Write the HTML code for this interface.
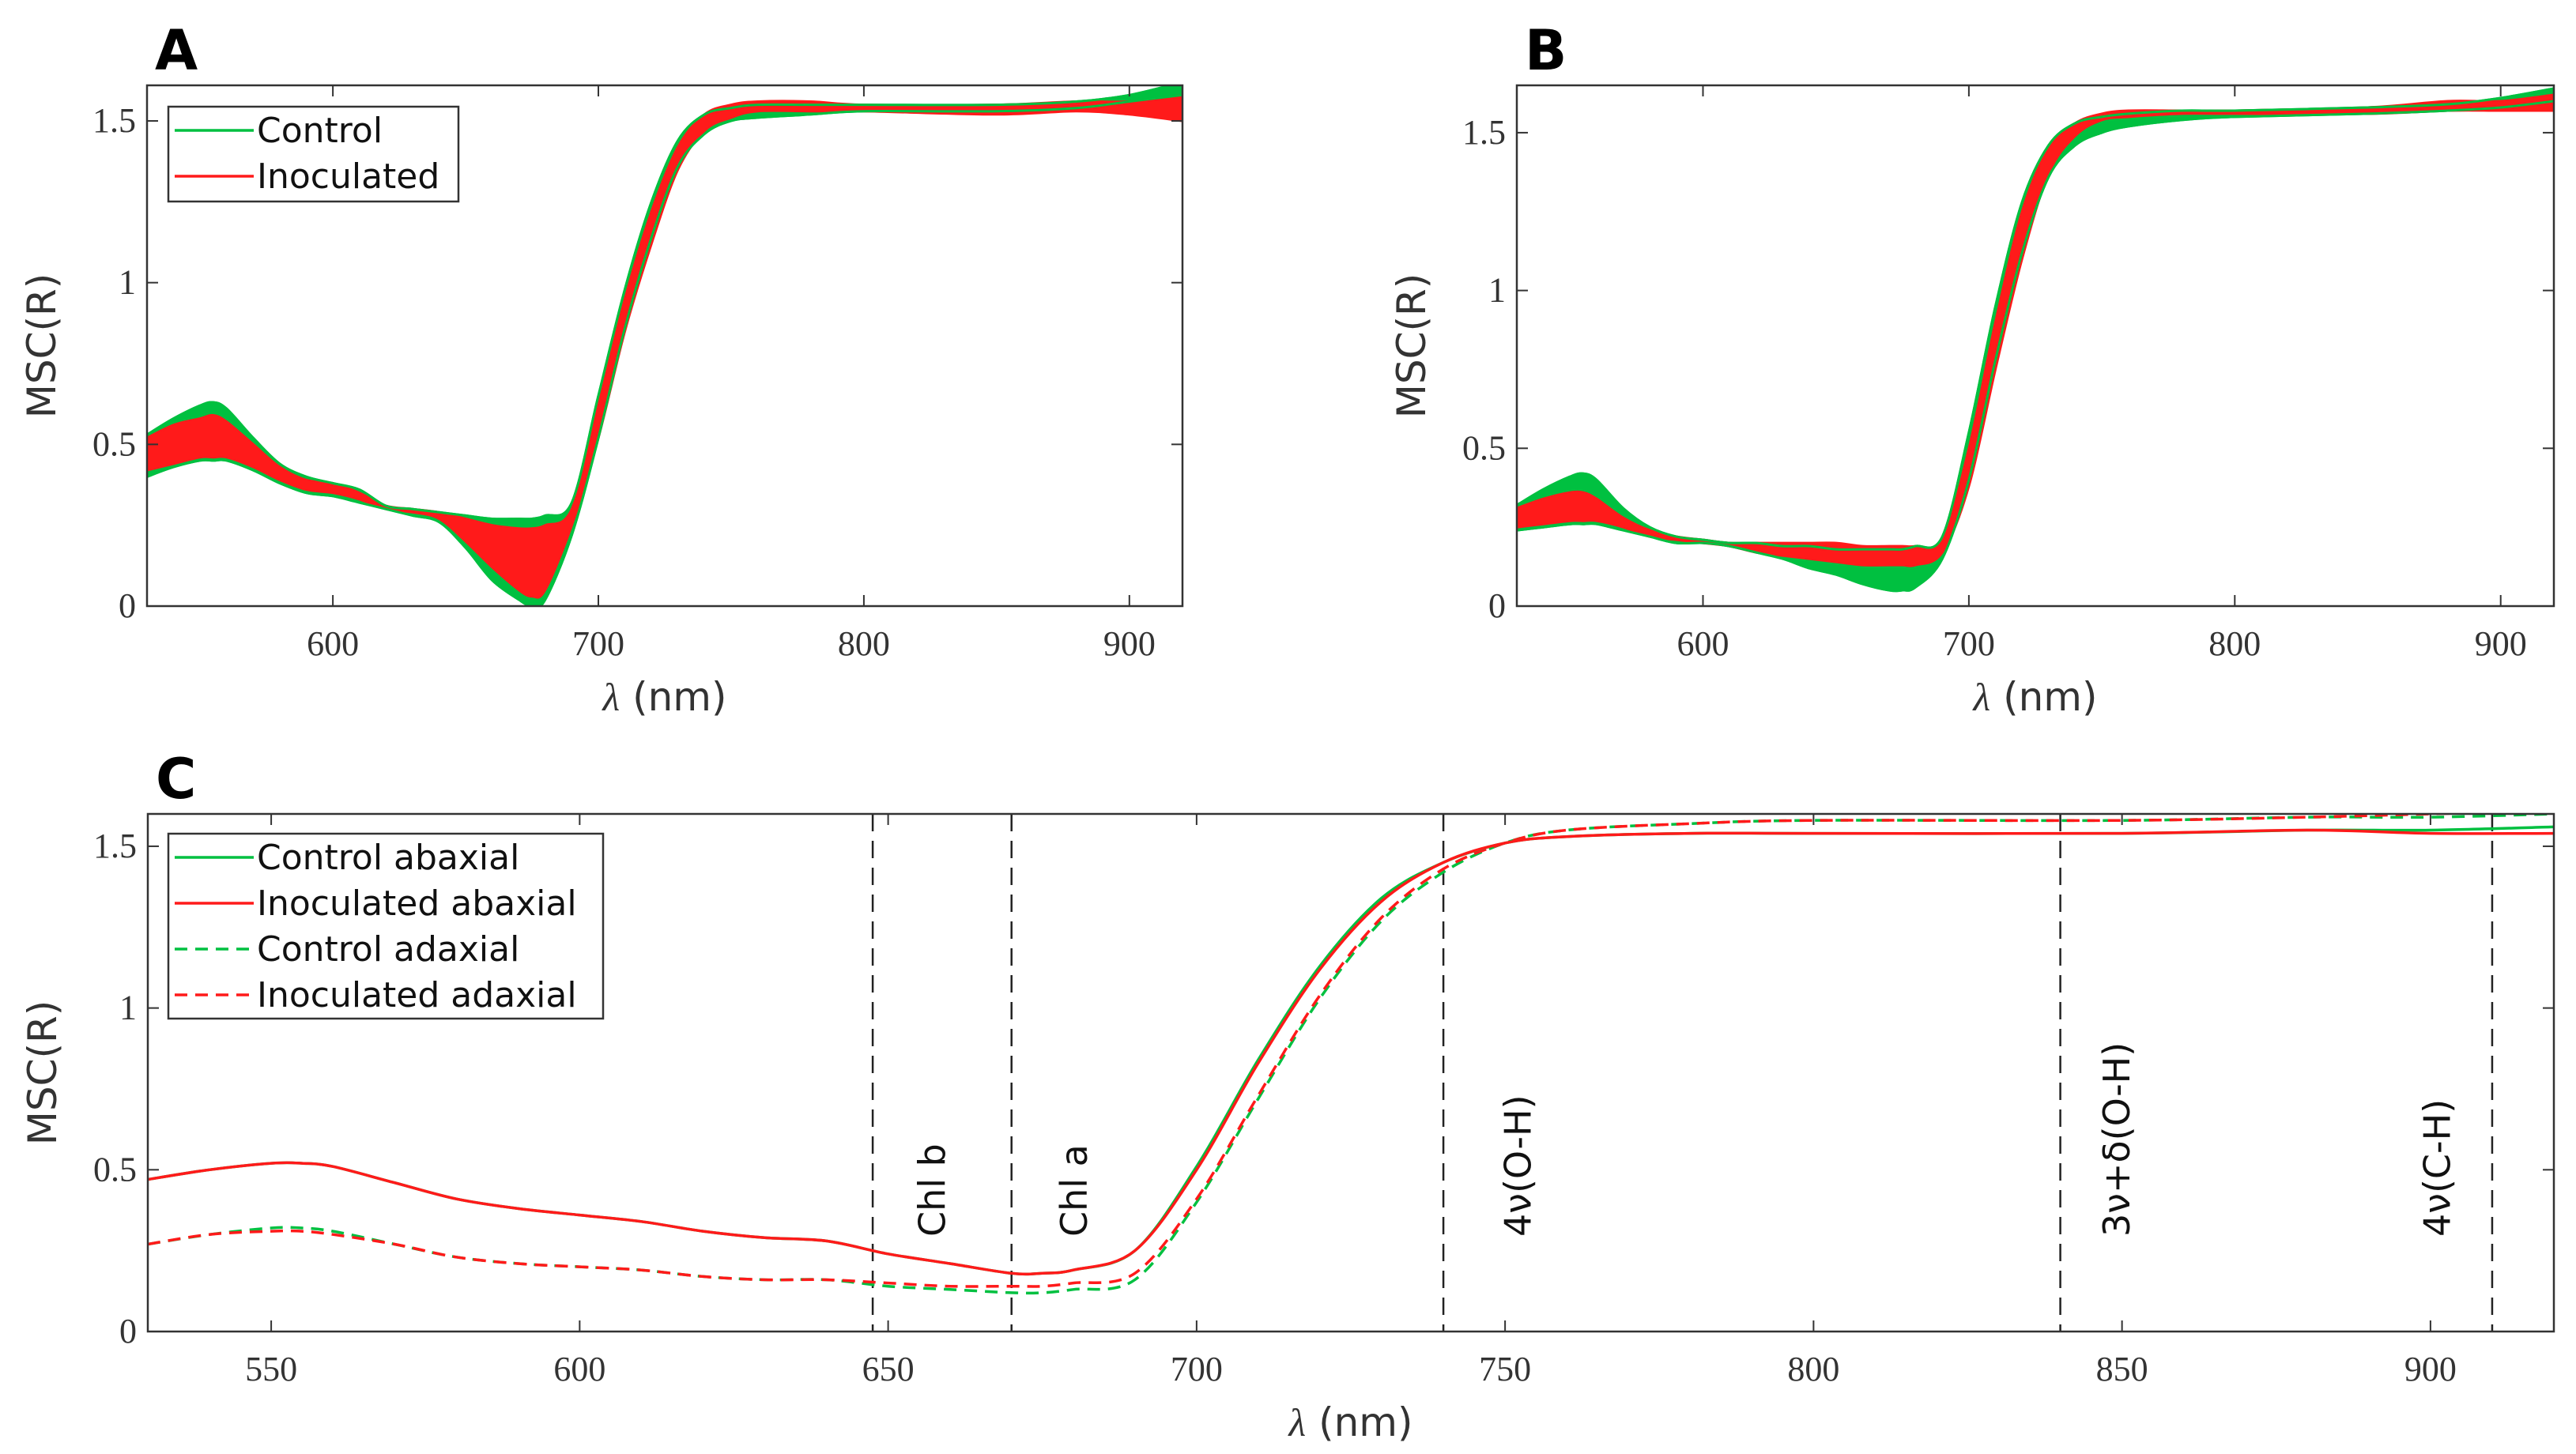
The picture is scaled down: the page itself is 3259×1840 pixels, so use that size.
<!DOCTYPE html>
<html><head><meta charset="utf-8">
<style>
html,body{margin:0;padding:0;background:#fff;}
svg{display:block;}
.tick{font-family:"Liberation Serif",serif;font-size:44px;fill:#333;}
.lab{font-family:"DejaVu Sans","Liberation Sans",sans-serif;font-size:50px;fill:#333;}
.leg{font-family:"DejaVu Sans","Liberation Sans",sans-serif;font-size:44px;fill:#111;}
.ann{font-family:"DejaVu Sans","Liberation Sans",sans-serif;font-size:46px;fill:#111;}
.pl{font-family:"DejaVu Sans","Liberation Sans",sans-serif;font-size:70px;font-weight:bold;fill:#000;}
</style></head>
<body>
<svg id="fig" width="3259" height="1840" viewBox="0 0 3259 1840" xmlns="http://www.w3.org/2000/svg"></svg>
<script>
const wl = [530,540,550,555,560,570,580,590,600,610,620,630,640,650,660,670,675,680,690,700,710,720,730,740,750,760,780,800,850,880,900,920];
// Panel A
const aInocUpper = [.52,.56,.58,.59,.57,.50,.43,.39,.38,.35,.31,.30,.29,.27,.25,.24,.24,.25,.30,.62,.95,1.22,1.42,1.52,1.55,1.56,1.56,1.55,1.55,1.56,1.56,1.58];
const aInocLower = [.42,.44,.46,.46,.46,.43,.39,.36,.35,.33,.30,.29,.27,.20,.12,.05,.03,.05,.25,.52,.85,1.12,1.35,1.47,1.51,1.53,1.53,1.53,1.52,1.53,1.52,1.50];
const aCtrlUpper = [.53,.58,.62,.63,.61,.52,.44,.40,.38,.36,.31,.30,.29,.28,.27,.27,.27,.28,.32,.65,.98,1.25,1.44,1.52,1.54,1.55,1.55,1.55,1.55,1.56,1.58,1.62];
const aCtrlLower = [.40,.43,.45,.45,.45,.42,.38,.35,.34,.32,.30,.28,.26,.18,.08,.02,0.0,.02,.22,.52,.86,1.14,1.36,1.46,1.50,1.51,1.52,1.53,1.53,1.54,1.56,1.58];
// Panel B
const bInocUpper = [.31,.34,.36,.36,.34,.28,.24,.22,.21,.20,.20,.20,.20,.20,.19,.19,.19,.19,.21,.50,.90,1.25,1.45,1.53,1.56,1.57,1.57,1.57,1.58,1.60,1.60,1.62];
const bInocLower = [.25,.26,.27,.27,.27,.25,.22,.21,.20,.19,.17,.16,.15,.14,.13,.13,.13,.13,.17,.38,.75,1.10,1.37,1.49,1.54,1.55,1.56,1.56,1.56,1.57,1.57,1.57];
const bCtrlUpper = [.32,.37,.41,.42,.40,.31,.25,.22,.21,.20,.20,.19,.19,.18,.18,.18,.18,.19,.22,.55,.95,1.28,1.46,1.53,1.55,1.56,1.57,1.57,1.58,1.59,1.61,1.64];
const bCtrlLower = [.24,.25,.26,.26,.26,.24,.22,.20,.20,.19,.17,.15,.12,.10,.07,.05,.05,.06,.15,.40,.78,1.12,1.36,1.46,1.50,1.52,1.54,1.55,1.56,1.57,1.58,1.60];
// Panel C
const cCtrlAbax = [.47,.50,.52,.52,.51,.46,.41,.38,.36,.34,.31,.29,.28,.24,.21,.18,.18,.19,.25,.51,.84,1.13,1.34,1.45,1.51,1.53,1.54,1.54,1.54,1.55,1.55,1.56];
const cInocAbax = [.47,.50,.52,.52,.51,.46,.41,.38,.36,.34,.31,.29,.28,.24,.21,.18,.18,.19,.25,.50,.83,1.12,1.33,1.45,1.51,1.53,1.54,1.54,1.54,1.55,1.54,1.54];
const cCtrlAdax = [.27,.30,.32,.32,.31,.27,.23,.21,.20,.19,.17,.16,.16,.14,.13,.12,.12,.13,.16,.40,.72,1.03,1.27,1.42,1.51,1.55,1.57,1.58,1.58,1.59,1.59,1.60];
const cInocAdax = [.27,.30,.31,.31,.30,.27,.23,.21,.20,.19,.17,.16,.16,.15,.14,.14,.14,.15,.18,.41,.73,1.04,1.28,1.43,1.51,1.55,1.57,1.58,1.58,1.59,1.60,1.61];
const cMarkers = [647.5,670,740,840,910];
const cMarkerLabels = ["Chl b","Chl a","4ν(O-H)","3ν+δ(O-H)","4ν(C-H)"];
const cLabelNm = [657,680,752,849,901];
const xTicksAB = [600,700,800,900];
const xTicksC = [550,600,650,700,750,800,850,900];
const yTicks = [0,0.5,1,1.5];
const yTickLabels = ["0","0.5","1","1.5"];

const NS="http://www.w3.org/2000/svg";
const svg=document.getElementById('fig');
function mk(tag,attrs,parent){const e=document.createElementNS(NS,tag);for(const k in attrs)e.setAttribute(k,attrs[k]);(parent||svg).appendChild(e);return e;}
function smooth(pts){let d='M'+pts[0][0]+','+pts[0][1];for(let i=0;i<pts.length-1;i++){const p0=pts[Math.max(0,i-1)],p1=pts[i],p2=pts[i+1],p3=pts[Math.min(pts.length-1,i+2)];
 const c1=[p1[0]+(p2[0]-p0[0])/6,p1[1]+(p2[1]-p0[1])/6],c2=[p2[0]-(p3[0]-p1[0])/6,p2[1]-(p3[1]-p1[1])/6];
 d+=' C'+c1[0].toFixed(1)+','+c1[1].toFixed(1)+' '+c2[0].toFixed(1)+','+c2[1].toFixed(1)+' '+p2[0].toFixed(1)+','+p2[1].toFixed(1);}return d;}

function panel(o){
 const g=mk('g',{});
 const sx=v=>o.L+(v-530)/(920-530)*(o.R-o.L), sy=v=>o.B-(v/o.ymax)*(o.B-o.T);
 const clipId=o.name+'-clip';
 const cp=mk('clipPath',{id:clipId},g);mk('rect',{x:o.L,y:o.T,width:o.R-o.L,height:o.B-o.T},cp);
 const plot=mk('g',{'clip-path':'url(#'+clipId+')'},g);
 
 o.draw(plot,sx,sy,g);
 const box=mk('rect',{x:o.L,y:o.T,width:o.R-o.L,height:o.B-o.T,fill:'none',stroke:'#333','stroke-width':2.5},g);
 
 o.xt.forEach(v=>{const x=sx(v);
  mk('line',{x1:x,y1:o.B,x2:x,y2:o.B-14,stroke:'#333','stroke-width':2},g);
  mk('line',{x1:x,y1:o.T,x2:x,y2:o.T+14,stroke:'#333','stroke-width':2},g);
  const t=mk('text',{x:x,y:o.B+62,'text-anchor':'middle',class:'tick'},g);t.textContent=v;
  });
 yTicks.forEach((v,i)=>{const y=sy(v);
  mk('line',{x1:o.L,y1:y,x2:o.L+14,y2:y,stroke:'#333','stroke-width':2},g);
  mk('line',{x1:o.R,y1:y,x2:o.R-14,y2:y,stroke:'#333','stroke-width':2},g);
  const t=mk('text',{x:o.L-14,y:y+14,'text-anchor':'end',class:'tick'},g);t.textContent=yTickLabels[i];
  });
 const xl=mk('text',{x:(o.L+o.R)/2,y:o.B+132,'text-anchor':'middle',class:'lab'},g);
 xl.innerHTML='<tspan font-family="Liberation Serif" font-style="italic">λ</tspan> (nm)';
 
 const yl=mk('text',{x:0,y:0,'text-anchor':'middle',class:'lab',transform:'translate('+(o.L-116)+','+((o.T+o.B)/2)+') rotate(-90)'},g);
 yl.textContent='MSC(R)';
 const pl=mk('text',{x:o.L+10,y:o.T-20,class:'pl'},g);pl.textContent=o.letter;
 
 return g;
}
const G='#00c040',R='#ff1a1a';
function band(plot,sx,sy,up,lo,col,nm){
 const pu=wl.map((w,i)=>[sx(w),sy(up[i])]),pl=wl.map((w,i)=>[sx(w),sy(lo[i])]).reverse();
 let d=smooth(pu)+' L'+pl[0][0]+','+pl[0][1]+smooth(pl).replace(/^M[^ C]*/,'')+' Z';
 const p=mk('path',{d:d,fill:col,stroke:col,'stroke-width':3},plot);
 
}
function line(plot,sx,sy,arr,col,dash,nm,w){
 const p=mk('path',{d:smooth(wl.map((x,i)=>[sx(x),sy(arr[i])])),fill:'none',stroke:col,'stroke-width':w||3.5},plot);
 if(dash)p.setAttribute('stroke-dasharray',dash);
 
}
function legend(x,y,w,h,items){
 const g=mk('g',{});
 mk('rect',{x:x,y:y,width:w,height:h,fill:'#fff',stroke:'#333','stroke-width':2.5},g);
 items.forEach((it,i)=>{const yy=y+30+i*58;
  const e=mk('g',{},g);
  const l=mk('line',{x1:x+8,y1:yy,x2:x+108,y2:yy,stroke:it[1],'stroke-width':3.5},e);
  if(it[2])l.setAttribute('stroke-dasharray','16,10');
  const t=mk('text',{x:x+112,y:yy+15,class:'leg'},e);t.textContent=it[0];});
}
panel({name:'panel-a',letter:'A',L:186,R:1496,T:108,B:767,ymax:1.61,xt:xTicksAB,draw:(p,sx,sy)=>{
 band(p,sx,sy,aCtrlUpper,aCtrlLower,G,'control-band');
 band(p,sx,sy,aInocUpper,aInocLower,R,'inoculated-band');
 line(p,sx,sy,aCtrlUpper,G,null,'control-upper-line',3);line(p,sx,sy,aCtrlLower,G,null,'control-lower-line',3);
}});
legend(213,135,367,120,[['Control',G],['Inoculated',R]]);
panel({name:'panel-b',letter:'B',L:1919,R:3231,T:108,B:767,ymax:1.65,xt:xTicksAB,draw:(p,sx,sy)=>{
 band(p,sx,sy,bCtrlUpper,bCtrlLower,G,'control-band');
 band(p,sx,sy,bInocUpper,bInocLower,R,'inoculated-band');
 line(p,sx,sy,bCtrlUpper,G,null,'control-upper-line',3);line(p,sx,sy,bCtrlLower,G,null,'control-lower-line',3);
}});
panel({name:'panel-c',letter:'C',L:187,R:3231,T:1030,B:1685,ymax:1.60,xt:xTicksC,draw:(p,sx,sy,g)=>{
 cMarkers.forEach((m,i)=>{const x=sx(m);
  const l=mk('line',{x1:x,y1:1030,x2:x,y2:1685,stroke:'#222','stroke-width':2.5,'stroke-dasharray':'22,12'},p);
  
  const t=mk('text',{x:0,y:0,class:'ann',transform:'translate('+(sx(cLabelNm[i])+17)+',1565) rotate(-90)'},g);
  t.textContent=cMarkerLabels[i];});
 line(p,sx,sy,cCtrlAdax,G,'16,10','control-adaxial-line');
 line(p,sx,sy,cInocAdax,R,'16,10','inoculated-adaxial-line');
 line(p,sx,sy,cCtrlAbax,G,null,'control-abaxial-line');
 line(p,sx,sy,cInocAbax,R,null,'inoculated-abaxial-line');
}});
legend(213,1055,550,234,[['Control abaxial',G],['Inoculated abaxial',R],['Control adaxial',G,1],['Inoculated adaxial',R,1]]);
</script>
</body></html>
